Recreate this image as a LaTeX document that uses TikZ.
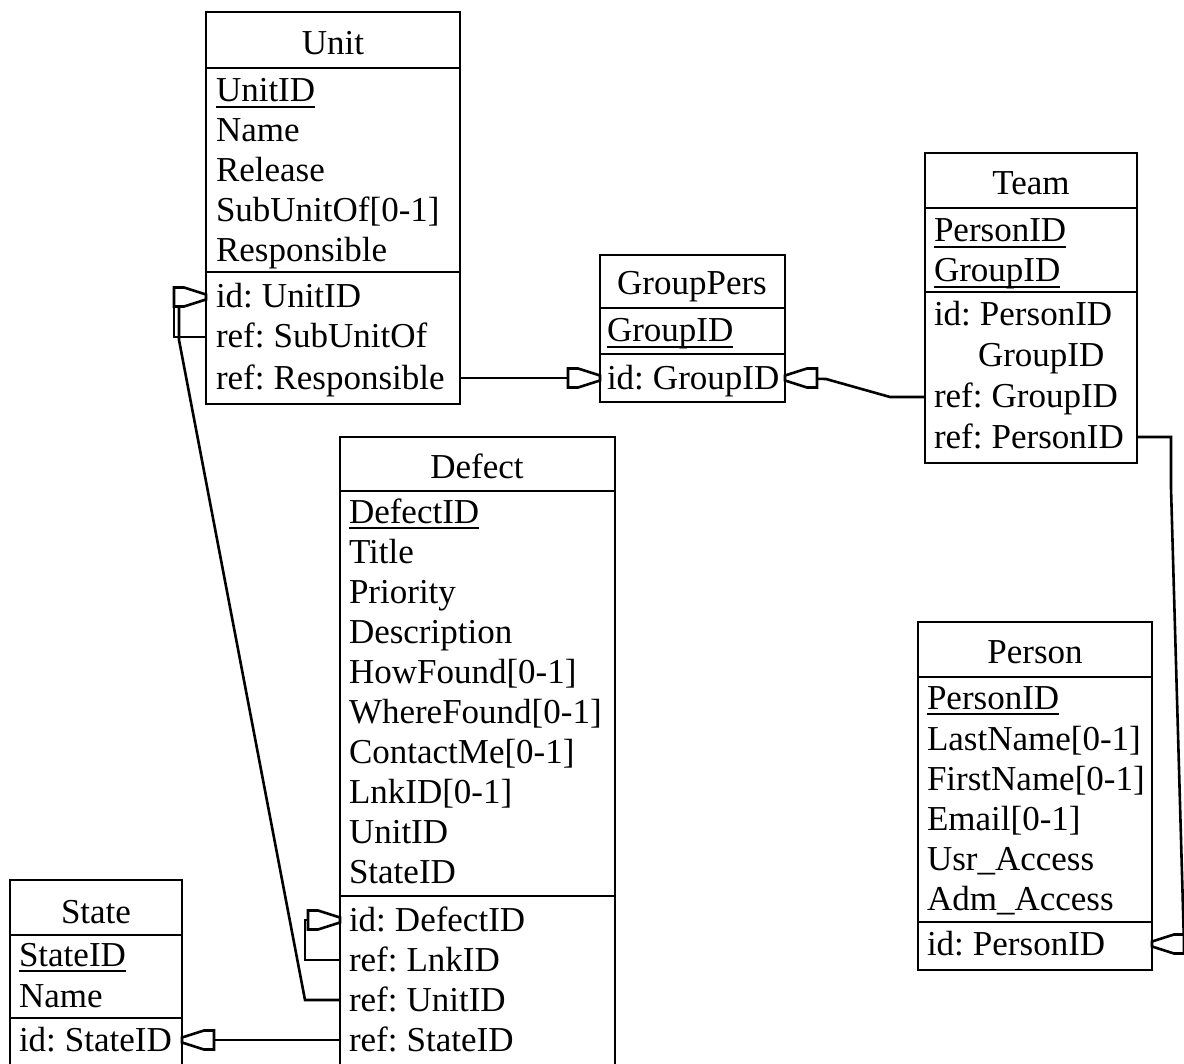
\documentclass[tikz,border=0pt]{standalone}
\usepackage{fontspec}
\setmainfont[WordSpace=0.7]{Liberation Serif}
\usetikzlibrary{fit}
\tikzset{
 ent/.style={draw, line width=1.4pt, inner sep=0pt, outer sep=0pt},
 sep/.style={line width=1.4pt},
 conn/.style={line width=1.3pt, line join=miter},
 txt/.style={anchor=west, inner sep=0pt, outer sep=0pt, text height=13pt, text depth=2pt, font=\fontsize{17.5}{20}\selectfont},
 ttl/.style={anchor=center, inner sep=0pt, outer sep=0pt, text height=13pt, text depth=2pt, font=\fontsize{17.5}{20}\selectfont},
 fkhead/.pic={\draw[conn, fill=white] (0,-2.5) -- (-22,-9.5) -- (-32,-9.5) -- (-32,9.5) -- (-22,9.5) -- (0,2.5) -- cycle;}
}
\newcommand\ulnode[1]{\draw[line width=1.2pt] ([yshift=-2.6pt]#1.base west) -- ([yshift=-2.6pt]#1.base east);}
\begin{document}
\begin{tikzpicture}[x=0.5pt,y=-0.5pt]
\useasboundingbox (0,0) rectangle (1184,1064);
\fill[white] (0,0) rectangle (1184,1064);
\begin{scope}
\clip (0,0) rectangle (1184,1064);
% Unit
\node[ent, fit={(206,12) (460,404)}] (unit) {};
\draw[sep] (unit.west |- 0,68) -- (unit.east |- 0,68);
\draw[sep] (unit.west |- 0,272) -- (unit.east |- 0,272);
\node[ttl] (unitT) at (333,44) {Unit};
\node[txt] (ua1) at (216,91) {UnitID};
\node[txt] (ua2) at (216,131) {Name};
\node[txt] (ua3) at (216,171) {Release};
\node[txt] (ua4) at (216,211) {SubUnitOf[0-1]};
\node[txt] (ua5) at (216,251) {Responsible};
\node[txt] (ur1) at (216,297) {id: UnitID};
\node[txt] (ur2) at (216,337) {ref: SubUnitOf};
\node[txt] (ur3) at (216,378) {ref: Responsible};
\ulnode{ua1}
% GroupPers
\node[ent, fit={(600,255) (785,402)}] (gp) {};
\draw[sep] (gp.west |- 0,308) -- (gp.east |- 0,308);
\draw[sep] (gp.west |- 0,354) -- (gp.east |- 0,354);
\node[ttl] (gpT) at (692,284) {GroupPers};
\node[txt] (ga1) at (607,331) {GroupID};
\node[txt] (gr1) at (607,378) {id: GroupID};
\ulnode{ga1}
% Team
\node[ent, fit={(925,153) (1137,463)}] (team) {};
\draw[sep] (team.west |- 0,208) -- (team.east |- 0,208);
\draw[sep] (team.west |- 0,292) -- (team.east |- 0,292);
\node[ttl] (teamT) at (1031,184) {Team};
\node[txt] (ta1) at (934,231) {PersonID};
\node[txt] (ta2) at (934,271) {GroupID};
\node[txt] (tr1) at (934,315) {id: PersonID};
\node[txt] (tr1b) at (978,355) {GroupID};
\node[txt] (tr2) at (934,397) {ref: GroupID};
\node[txt] (tr3) at (934,437) {ref: PersonID};
\ulnode{ta1}
\ulnode{ta2}
% Defect
\node[ent, fit={(340,437) (615,1080)}] (defect) {};
\draw[sep] (defect.west |- 0,491) -- (defect.east |- 0,491);
\draw[sep] (defect.west |- 0,896) -- (defect.east |- 0,896);
\node[ttl] (defT) at (477,467) {Defect};
\node[txt] (da1) at (349,512) {DefectID};
\node[txt] (da2) at (349,552) {Title};
\node[txt] (da3) at (349,592) {Priority};
\node[txt] (da4) at (349,632) {Description};
\node[txt] (da5) at (349,672) {HowFound[0-1]};
\node[txt] (da6) at (349,712) {WhereFound[0-1]};
\node[txt] (da7) at (349,752) {ContactMe[0-1]};
\node[txt] (da8) at (349,792) {LnkID[0-1]};
\node[txt] (da9) at (349,832) {UnitID};
\node[txt] (da10) at (349,872) {StateID};
\node[txt] (dr1) at (349,920) {id: DefectID};
\node[txt] (dr2) at (349,960) {ref: LnkID};
\node[txt] (dr3) at (349,1000) {ref: UnitID};
\node[txt] (dr4) at (349,1040) {ref: StateID};
\ulnode{da1}
% State
\node[ent, fit={(10,880) (182,1080)}] (state) {};
\draw[sep] (state.west |- 0,935) -- (state.east |- 0,935);
\draw[sep] (state.west |- 0,1018) -- (state.east |- 0,1018);
\node[ttl] (stT) at (96,912) {State};
\node[txt] (sa1) at (19,955) {StateID};
\node[txt] (sa2) at (19,996) {Name};
\node[txt] (sr1) at (19,1040) {id: StateID};
\ulnode{sa1}
% Person
\node[ent, fit={(918,622) (1152,970)}] (person) {};
\draw[sep] (person.west |- 0,677) -- (person.east |- 0,677);
\draw[sep] (person.west |- 0,922) -- (person.east |- 0,922);
\node[ttl] (peT) at (1035,652) {Person};
\node[txt] (pa1) at (927,698) {PersonID};
\node[txt] (pa2) at (927,739) {LastName[0-1]};
\node[txt] (pa3) at (927,779) {FirstName[0-1]};
\node[txt] (pa4) at (927,819) {Email[0-1]};
\node[txt] (pa5) at (927,859) {Usr\_Access};
\node[txt] (pa6) at (927,899) {Adm\_Access};
\node[txt] (pr1) at (927,944) {id: PersonID};
\ulnode{pa1}
% connectors
\draw[conn] (ur3 -| unit.east) -- (gr1 -| gp.west);
\pic at (gr1 -| gp.west) {fkhead};
\draw[conn] (tr2 -| team.west) -- (890,397) -- (826,379) -- (gr1 -| gp.east);
\pic[rotate=180] at (gr1 -| gp.east) {fkhead};
\draw[conn] (tr3 -| team.east) -- (1171,437) -- (1171,488) -- (1184,944) -- (pr1 -| person.east);
\pic[rotate=180] at (pr1 -| person.east) {fkhead};
\draw[conn] (ur2 -| unit.west) -- (174,337) -- (174,297) -- (ur1 -| unit.west);
\draw[conn] (dr3 -| defect.west) -- (305,1000) -- (179,340) -- (179,297);
\pic at (ur1 -| unit.west) {fkhead};
\draw[conn] (dr2 -| defect.west) -- (305,960) -- (305,920) -- (dr1 -| defect.west);
\pic at (dr1 -| defect.west) {fkhead};
\draw[conn] (dr4 -| defect.west) -- (sr1 -| state.east);
\pic[rotate=180] at (sr1 -| state.east) {fkhead};
\end{scope}
\end{tikzpicture}
\end{document}
